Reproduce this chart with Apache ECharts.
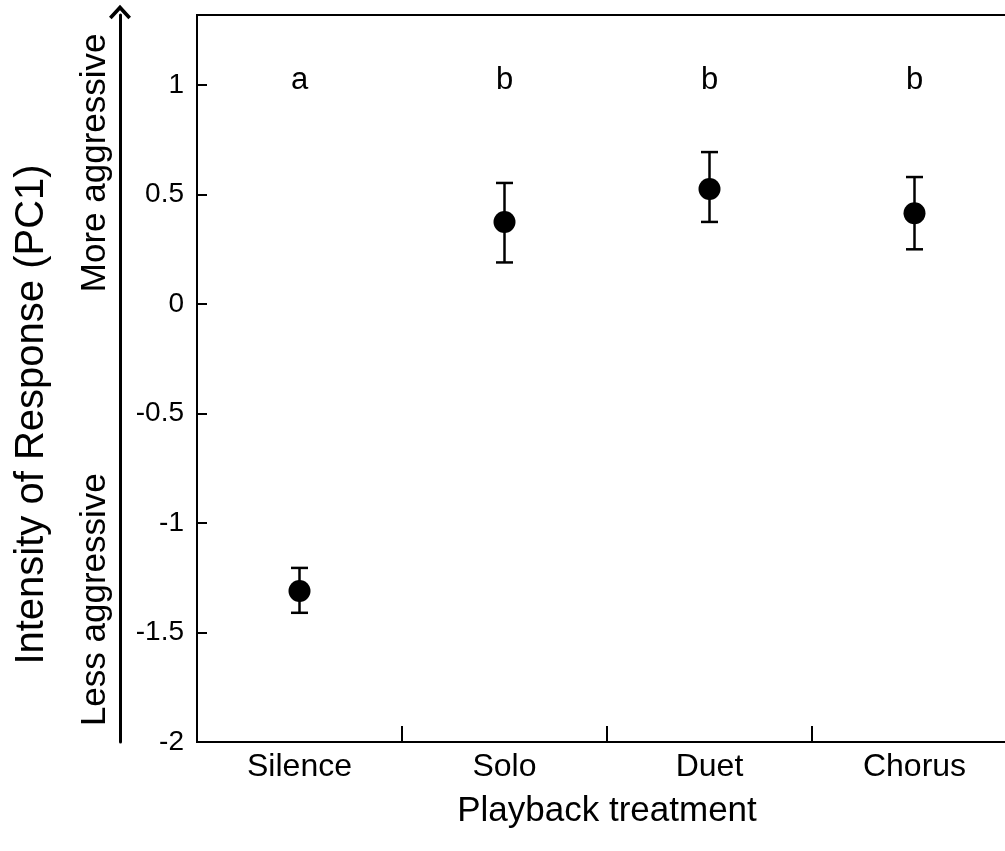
<!DOCTYPE html>
<html>
<head>
<meta charset="utf-8">
<script src="https://cdn.jsdelivr.net/npm/echarts@6/dist/echarts.min.js"></script>
<style>
html,body{margin:0;padding:0;background:#fff;}
#chart{width:1005px;height:851px;}
</style>
</head>
<body>
<div id="chart"></div>
<script>
// ---- data ----
const categories = ['Silence', 'Solo', 'Duet', 'Chorus'];
const means = [-1.31, 0.375, 0.525, 0.415];
const lower = [-1.41, 0.19, 0.375, 0.25];
const upper = [-1.205, 0.553, 0.694, 0.58];
const letters = ['a', 'b', 'b', 'b'];
const yTicks = { min: -2, max: 1.32, interval: 0.5 };
const LETTER_Y = 1.02;
const sideLabels = ['More aggressive', 'Less aggressive'];
const sideLabelY = [0.645, -1.35];

const FONT = '"Liberation Sans", Arial, sans-serif';
const chart = echarts.init(document.getElementById('chart'), null, { renderer: 'canvas' });

const option = {
  backgroundColor: '#fff',
  animation: false,
  grid: {
    left: 197, top: 15, width: 820, bottom: 109,
    outerBoundsMode: 'none',
    containLabel: false,
    show: true, borderColor: '#000', borderWidth: 2, backgroundColor: 'transparent'
  },
  xAxis: {
    type: 'category',
    data: categories,
    boundaryGap: true,
    axisLine: { show: true, onZero: false, lineStyle: { color: '#000', width: 2 } },
    axisTick: { show: true, inside: true, length: 16, interval: 0, alignWithLabel: false, lineStyle: { color: '#000', width: 2 } },
    axisLabel: { color: '#000', fontSize: 32, fontFamily: FONT, margin: 9 },
    name: 'Playback treatment',
    nameLocation: 'middle',
    nameGap: 52,
    nameTextStyle: { color: '#000', fontSize: 35, fontFamily: FONT },
    splitLine: { show: false }
  },
  yAxis: [{
    type: 'value',
    min: yTicks.min, max: yTicks.max, interval: yTicks.interval,
    axisLine: { show: true, onZero: false, lineStyle: { color: '#000', width: 2 } },
    axisTick: { show: true, inside: true, length: 10, lineStyle: { color: '#000', width: 2 } },
    axisLabel: {
      color: '#000', fontSize: 28, fontFamily: FONT, margin: 13,
      showMaxLabel: false,
      formatter: v => (Math.abs(v - Math.round(v)) < 1e-9 ? String(Math.round(v)) : String(v))
    },
    splitLine: { show: false },
    name: 'Intensity of Response (PC1)',
    nameLocation: 'middle',
    nameGap: 145,
    nameTextStyle: { color: '#000', fontSize: 40, fontFamily: FONT, padding: [0, 72, 0, 0] }
  }, {
    type: 'value',
    position: 'left',
    offset: 77,
    min: yTicks.min, max: yTicks.max, interval: yTicks.interval,
    axisLine: {
      show: true, onZero: false,
      symbol: ['none', 'path://M0,0 L10,11 L7.6,13.4 L0,5 L-7.6,13.4 L-10,11 Z'],
      symbolSize: [22, 18], symbolOffset: [0, 3],
      lineStyle: { color: '#000', width: 3 }
    },
    axisTick: { show: false },
    axisLabel: { show: false },
    splitLine: { show: false }
  }],
  series: [
    {
      type: 'custom',
      name: 'errorbars',
      data: categories.map((c, i) => [i, lower[i], upper[i]]),
      renderItem: function (params, api) {
        const x = api.value(0);
        const lo = api.coord([x, api.value(1)]);
        const hi = api.coord([x, api.value(2)]);
        const hw = 8.5;
        const st = { stroke: '#000', lineWidth: 2.5 };
        return {
          type: 'group',
          children: [
            { type: 'line', shape: { x1: lo[0], y1: lo[1], x2: hi[0], y2: hi[1] }, style: st },
            { type: 'line', shape: { x1: lo[0] - hw, y1: lo[1], x2: lo[0] + hw, y2: lo[1] }, style: st },
            { type: 'line', shape: { x1: hi[0] - hw, y1: hi[1], x2: hi[0] + hw, y2: hi[1] }, style: st }
          ]
        };
      },
      z: 2
    },
    {
      type: 'scatter',
      data: means.map((m, i) => [i, m]),
      symbol: 'circle',
      symbolSize: 22,
      itemStyle: { color: '#000', opacity: 1 },
      z: 3
    },
    {
      type: 'custom',
      name: 'letters',
      data: letters.map((l, i) => [i, LETTER_Y, l]),
      renderItem: function (params, api) {
        const p = api.coord([api.value(0), api.value(1)]);
        return {
          type: 'text',
          x: p[0], y: p[1],
          style: {
            text: letters[params.dataIndex],
            fill: '#000', font: '31px ' + FONT,
            align: 'center', verticalAlign: 'middle'
          }
        };
      },
      z: 3
    }
  ]
};
chart.setOption(option);

// rotated side labels placed along the arrow axis, using the value scale
chart.setOption({
  graphic: sideLabels.map((t, i) => ({
    id: 'side' + i, type: 'text', x: 95,
    y: chart.convertToPixel({ yAxisIndex: 0 }, sideLabelY[i]),
    rotation: Math.PI / 2,
    style: { text: t, font: '35px ' + FONT, fill: '#000', align: 'center', verticalAlign: 'middle' }
  }))
});
</script>
</body>
</html>
